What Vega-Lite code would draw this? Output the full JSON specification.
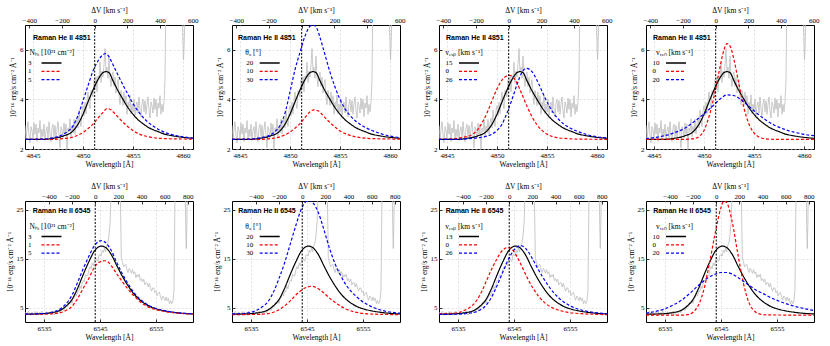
{
"$schema": "https://vega.github.io/schema/vega-lite/v6.json",
"padding": 5,
"columns": 4,
"spacing": {"row": 52, "column": 39},
"bounds": "flush",
"resolve": {"scale": {"color": "independent", "strokeDash": "independent"}},
"datasets": {
"o1": [
{"x":4844.2,"y":2.95},{"x":4844.3,"y":2.40},{"x":4844.4,"y":2.80},{"x":4844.5,"y":3.10},{"x":4844.6,"y":2.55},{"x":4844.7,"y":2.25},{"x":4844.8,"y":2.90},{"x":4844.9,"y":2.75},{"x":4845.0,"y":2.45},{"x":4845.1,"y":3.05},
{"x":4845.2,"y":2.60},{"x":4845.3,"y":3.00},{"x":4845.4,"y":2.30},{"x":4845.5,"y":2.85},{"x":4845.6,"y":2.65},{"x":4845.7,"y":3.15},{"x":4845.8,"y":2.40},{"x":4845.9,"y":2.80},{"x":4846.0,"y":2.50},{"x":4846.1,"y":3.00},
{"x":4846.2,"y":2.35},{"x":4846.3,"y":2.75},{"x":4846.4,"y":2.90},{"x":4846.5,"y":2.45},{"x":4846.6,"y":3.10},{"x":4846.7,"y":2.60},{"x":4846.8,"y":2.30},{"x":4846.9,"y":2.85},{"x":4847.0,"y":3.00},{"x":4847.1,"y":2.50},
{"x":4847.2,"y":2.95},{"x":4847.3,"y":2.40},{"x":4847.4,"y":2.80},{"x":4847.5,"y":3.10},{"x":4847.6,"y":2.55},{"x":4847.7,"y":2.05},{"x":4847.8,"y":2.90},{"x":4847.9,"y":2.75},{"x":4848.0,"y":2.45},{"x":4848.1,"y":3.05},
{"x":4848.2,"y":2.60},{"x":4848.3,"y":3.00},{"x":4848.4,"y":1.95},{"x":4848.5,"y":2.85},{"x":4848.6,"y":2.70},{"x":4848.7,"y":3.22},{"x":4848.8,"y":2.50},{"x":4848.9,"y":2.92},{"x":4849.0,"y":2.65},{"x":4849.1,"y":3.20},
{"x":4849.2,"y":2.60},{"x":4849.3,"y":3.05},{"x":4849.4,"y":3.25},{"x":4849.5,"y":2.85},{"x":4849.6,"y":3.57},{"x":4849.7,"y":3.14},{"x":4849.8,"y":2.91},{"x":4849.9,"y":3.53},{"x":4850.0,"y":3.75},{"x":4850.1,"y":3.34},
{"x":4850.2,"y":3.88},{"x":4850.3,"y":3.42},{"x":4850.4,"y":3.91},{"x":4850.5,"y":4.30},{"x":4850.6,"y":3.84},{"x":4850.7,"y":3.63},{"x":4850.8,"y":4.37},{"x":4850.9,"y":4.31},{"x":4851.0,"y":4.10},{"x":4851.1,"y":4.79},
{"x":4851.2,"y":4.43},{"x":4851.3,"y":4.92},{"x":4851.4,"y":4.31},{"x":4851.5,"y":4.95},{"x":4851.6,"y":4.81},{"x":4851.7,"y":5.50},{"x":4851.8,"y":4.68},{"x":4851.9,"y":5.14},{"x":4852.0,"y":4.90},{"x":4852.1,"y":5.40},
{"x":4852.2,"y":6.05},{"x":4852.3,"y":5.15},{"x":4852.4,"y":5.30},{"x":4852.5,"y":4.85},{"x":4852.6,"y":5.75},{"x":4852.7,"y":4.88},{"x":4852.8,"y":4.52},{"x":4852.9,"y":5.01},{"x":4853.0,"y":5.10},{"x":4853.1,"y":4.52},
{"x":4853.2,"y":4.89},{"x":4853.3,"y":4.26},{"x":4853.4,"y":4.58},{"x":4853.5,"y":4.80},{"x":4853.6,"y":4.17},{"x":4853.7,"y":3.79},{"x":4853.8,"y":4.36},{"x":4853.9,"y":4.13},{"x":4854.0,"y":3.75},{"x":4854.1,"y":4.30},
{"x":4854.2,"y":3.80},{"x":4854.3,"y":4.15},{"x":4854.4,"y":3.40},{"x":4854.5,"y":3.90},{"x":4854.6,"y":3.69},{"x":4854.7,"y":4.18},{"x":4854.8,"y":3.42},{"x":4854.9,"y":3.81},{"x":4855.0,"y":3.50},{"x":4855.1,"y":4.00},
{"x":4855.2,"y":3.35},{"x":4855.3,"y":3.75},{"x":4855.4,"y":3.90},{"x":4855.5,"y":3.45},{"x":4855.6,"y":4.10},{"x":4855.7,"y":3.60},{"x":4855.8,"y":3.30},{"x":4855.9,"y":3.85},{"x":4856.0,"y":4.00},{"x":4856.1,"y":3.50},
{"x":4856.2,"y":3.95},{"x":4856.3,"y":3.40},{"x":4856.4,"y":3.80},{"x":4856.5,"y":4.10},{"x":4856.6,"y":3.55},{"x":4856.7,"y":3.25},{"x":4856.8,"y":3.90},{"x":4856.9,"y":3.75},{"x":4857.0,"y":3.45},{"x":4857.1,"y":4.05},
{"x":4857.2,"y":3.60},{"x":4857.3,"y":4.00},{"x":4857.4,"y":3.30},{"x":4857.5,"y":3.85},{"x":4857.6,"y":3.65},{"x":4857.7,"y":4.15},{"x":4857.8,"y":3.40},{"x":4857.9,"y":3.80},{"x":4858.0,"y":3.50},{"x":4858.1,"y":3.90},
{"x":4858.2,"y":4.80},{"x":4858.3,"y":8.5},{"x":4858.5,"y":9.5},{"x":4859.0,"y":9.5},{"x":4859.5,"y":9.5},{"x":4859.8,"y":9.0},{"x":4859.9,"y":7.5},{"x":4860.0,"y":6.2},{"x":4860.05,"y":5.6},{"x":4860.1,"y":6.0},
{"x":4860.2,"y":7.5},{"x":4860.3,"y":9.0},{"x":4861.0,"y":9.0}
],
"o2": [
{"x":6531.6,"y":4.15},{"x":6531.8,"y":3.60},{"x":6532.0,"y":4.00},{"x":6532.2,"y":4.30},{"x":6532.4,"y":3.75},{"x":6532.6,"y":3.45},{"x":6532.8,"y":4.10},{"x":6533.0,"y":3.95},{"x":6533.2,"y":3.65},{"x":6533.4,"y":4.25},
{"x":6533.6,"y":3.80},{"x":6533.8,"y":4.20},{"x":6534.0,"y":3.50},{"x":6534.2,"y":4.05},{"x":6534.4,"y":3.85},{"x":6534.6,"y":4.35},{"x":6534.8,"y":3.60},{"x":6535.0,"y":4.00},{"x":6535.2,"y":3.70},{"x":6535.4,"y":4.20},
{"x":6535.6,"y":3.55},{"x":6535.8,"y":3.95},{"x":6536.0,"y":4.10},{"x":6536.2,"y":3.65},{"x":6536.4,"y":4.30},{"x":6536.6,"y":3.80},{"x":6536.8,"y":3.50},{"x":6537.0,"y":4.05},{"x":6537.2,"y":4.30},{"x":6537.4,"y":3.85},
{"x":6537.6,"y":4.40},{"x":6537.8,"y":3.95},{"x":6538.0,"y":4.50},{"x":6538.2,"y":4.95},{"x":6538.4,"y":4.55},{"x":6538.6,"y":4.45},{"x":6538.8,"y":5.30},{"x":6539.0,"y":5.35},{"x":6539.2,"y":5.18},{"x":6539.4,"y":6.16},
{"x":6539.6,"y":5.77},{"x":6539.8,"y":6.54},{"x":6540.0,"y":5.88},{"x":6540.2,"y":6.95},{"x":6540.4,"y":7.03},{"x":6540.6,"y":8.05},{"x":6540.8,"y":7.40},{"x":6541.0,"y":8.34},{"x":6541.2,"y":8.32},{"x":6541.4,"y":9.42},
{"x":6541.6,"y":8.90},{"x":6541.8,"y":9.92},{"x":6542.0,"y":10.60},{"x":6542.2,"y":10.37},{"x":6542.4,"y":11.80},{"x":6542.6,"y":11.50},{"x":6542.8,"y":11.50},{"x":6543.0,"y":12.75},{"x":6543.2,"y":13.40},{"x":6543.4,"y":12.95},
{"x":6543.6,"y":14.15},{"x":6543.8,"y":13.55},{"x":6544.0,"y":14.55},{"x":6544.2,"y":15.30},{"x":6544.4,"y":14.70},{"x":6544.6,"y":14.50},{"x":6544.8,"y":15.75},{"x":6545.0,"y":15.80},{"x":6545.2,"y":15.55},{"x":6545.4,"y":16.75},
{"x":6545.6,"y":16.30},{"x":6545.8,"y":17.20},{"x":6546.0,"y":16.40},{"x":6546.2,"y":17.75},{"x":6546.4,"y":18.20},{"x":6546.6,"y":19.80},{"x":6546.8,"y":22.5},{"x":6547.0,"y":30},{"x":6548.6,"y":30},{"x":6548.8,"y":15.0},
{"x":6549.0,"y":14.40},{"x":6549.2,"y":13.35},{"x":6549.4,"y":13.70},{"x":6549.6,"y":13.90},{"x":6549.8,"y":12.85},{"x":6550.0,"y":12.20},{"x":6550.2,"y":13.05},{"x":6550.4,"y":12.70},{"x":6550.6,"y":12.05},{"x":6550.8,"y":12.80},
{"x":6551.0,"y":11.95},{"x":6551.2,"y":12.35},{"x":6551.4,"y":11.15},{"x":6551.6,"y":11.75},{"x":6551.8,"y":11.30},{"x":6552.0,"y":11.85},{"x":6552.2,"y":10.55},{"x":6552.4,"y":10.95},{"x":6552.6,"y":10.30},{"x":6552.8,"y":10.85},
{"x":6553.0,"y":9.70},{"x":6553.2,"y":10.10},{"x":6553.4,"y":10.10},{"x":6553.6,"y":9.25},{"x":6553.8,"y":10.00},{"x":6554.0,"y":9.05},{"x":6554.2,"y":8.40},{"x":6554.4,"y":9.05},{"x":6554.6,"y":9.05},{"x":6554.8,"y":8.10},
{"x":6555.0,"y":8.40},{"x":6555.2,"y":7.45},{"x":6555.4,"y":7.95},{"x":6555.6,"y":8.20},{"x":6555.8,"y":7.25},{"x":6556.0,"y":6.55},{"x":6556.2,"y":7.40},{"x":6556.4,"y":7.10},{"x":6556.6,"y":6.45},{"x":6556.8,"y":7.20},
{"x":6557.0,"y":6.45},{"x":6557.2,"y":6.95},{"x":6557.4,"y":5.80},{"x":6557.6,"y":6.45},{"x":6557.8,"y":5.85},{"x":6558.0,"y":6.20},{"x":6558.2,"y":8.5},{"x":6558.4,"y":30},{"x":6560.2,"y":30},{"x":6560.3,"y":22},
{"x":6560.4,"y":17.1},{"x":6560.5,"y":22},{"x":6560.6,"y":30},{"x":6561.6,"y":30}
],
"m1": [
{"p":0,"k":"b","x":4844.2,"y":2.39},{"p":0,"k":"b","x":4846,"y":2.39},{"p":0,"k":"b","x":4847,"y":2.43},{"p":0,"k":"b","x":4848,"y":2.52},{"p":0,"k":"b","x":4849,"y":2.73},{"p":0,"k":"b","x":4849.5,"y":3.0},{"p":0,"k":"b","x":4850,"y":3.4},{"p":0,"k":"b","x":4850.5,"y":3.9},{"p":0,"k":"b","x":4851,"y":4.38},{"p":0,"k":"b","x":4851.5,"y":4.8},{"p":0,"k":"b","x":4852,"y":5.08},{"p":0,"k":"b","x":4852.3,"y":5.12},{"p":0,"k":"b","x":4852.6,"y":5.08},{"p":0,"k":"b","x":4853,"y":4.75},{"p":0,"k":"b","x":4853.5,"y":4.35},{"p":0,"k":"b","x":4854,"y":4.0},{"p":0,"k":"b","x":4854.5,"y":3.67},{"p":0,"k":"b","x":4855,"y":3.4},{"p":0,"k":"b","x":4855.5,"y":3.18},{"p":0,"k":"b","x":4856,"y":3.02},{"p":0,"k":"b","x":4856.5,"y":2.88},{"p":0,"k":"b","x":4857,"y":2.78},{"p":0,"k":"b","x":4857.5,"y":2.7},{"p":0,"k":"b","x":4858,"y":2.62},{"p":0,"k":"b","x":4859,"y":2.53},{"p":0,"k":"b","x":4860,"y":2.47},{"p":0,"k":"b","x":4861,"y":2.43},
{"p":1,"k":"r","x":4844.2,"y":2.39},{"p":1,"k":"r","x":4847,"y":2.39},{"p":1,"k":"r","x":4848,"y":2.42},{"p":1,"k":"r","x":4849,"y":2.48},{"p":1,"k":"r","x":4849.5,"y":2.56},{"p":1,"k":"r","x":4850,"y":2.66},{"p":1,"k":"r","x":4850.5,"y":2.82},{"p":1,"k":"r","x":4851,"y":3.0},{"p":1,"k":"r","x":4851.5,"y":3.25},{"p":1,"k":"r","x":4852,"y":3.48},{"p":1,"k":"r","x":4852.4,"y":3.63},{"p":1,"k":"r","x":4852.8,"y":3.58},{"p":1,"k":"r","x":4853.1,"y":3.46},{"p":1,"k":"r","x":4853.7,"y":3.2},{"p":1,"k":"r","x":4854.4,"y":2.93},{"p":1,"k":"r","x":4855,"y":2.74},{"p":1,"k":"r","x":4855.7,"y":2.59},{"p":1,"k":"r","x":4856.7,"y":2.48},{"p":1,"k":"r","x":4857.7,"y":2.43},{"p":1,"k":"r","x":4859,"y":2.41},{"p":1,"k":"r","x":4861,"y":2.4},
{"p":1,"k":"u","x":4844.2,"y":2.39},{"p":1,"k":"u","x":4846,"y":2.4},{"p":1,"k":"u","x":4847,"y":2.45},{"p":1,"k":"u","x":4848,"y":2.59},{"p":1,"k":"u","x":4848.5,"y":2.72},{"p":1,"k":"u","x":4849,"y":2.93},{"p":1,"k":"u","x":4849.5,"y":3.35},{"p":1,"k":"u","x":4850,"y":3.94},{"p":1,"k":"u","x":4850.5,"y":4.55},{"p":1,"k":"u","x":4851,"y":5.15},{"p":1,"k":"u","x":4851.5,"y":5.55},{"p":1,"k":"u","x":4852,"y":5.8},{"p":1,"k":"u","x":4852.3,"y":5.85},{"p":1,"k":"u","x":4852.6,"y":5.72},{"p":1,"k":"u","x":4853,"y":5.4},{"p":1,"k":"u","x":4853.5,"y":4.98},{"p":1,"k":"u","x":4854,"y":4.58},{"p":1,"k":"u","x":4854.5,"y":4.2},{"p":1,"k":"u","x":4855,"y":3.83},{"p":1,"k":"u","x":4855.5,"y":3.53},{"p":1,"k":"u","x":4856,"y":3.28},{"p":1,"k":"u","x":4856.5,"y":3.08},{"p":1,"k":"u","x":4857,"y":2.93},{"p":1,"k":"u","x":4857.5,"y":2.8},{"p":1,"k":"u","x":4858,"y":2.7},{"p":1,"k":"u","x":4859,"y":2.57},{"p":1,"k":"u","x":4860,"y":2.49},{"p":1,"k":"u","x":4861,"y":2.44},
{"p":2,"k":"r","x":4844.2,"y":2.39},{"p":2,"k":"r","x":4847,"y":2.39},{"p":2,"k":"r","x":4848,"y":2.42},{"p":2,"k":"r","x":4849,"y":2.49},{"p":2,"k":"r","x":4849.5,"y":2.57},{"p":2,"k":"r","x":4850,"y":2.68},{"p":2,"k":"r","x":4850.5,"y":2.84},{"p":2,"k":"r","x":4851,"y":3.02},{"p":2,"k":"r","x":4851.5,"y":3.27},{"p":2,"k":"r","x":4852,"y":3.5},{"p":2,"k":"r","x":4852.4,"y":3.58},{"p":2,"k":"r","x":4852.8,"y":3.54},{"p":2,"k":"r","x":4853.1,"y":3.44},{"p":2,"k":"r","x":4853.7,"y":3.18},{"p":2,"k":"r","x":4854.4,"y":2.92},{"p":2,"k":"r","x":4855,"y":2.73},{"p":2,"k":"r","x":4855.7,"y":2.59},{"p":2,"k":"r","x":4856.7,"y":2.48},{"p":2,"k":"r","x":4857.7,"y":2.43},{"p":2,"k":"r","x":4859,"y":2.41},{"p":2,"k":"r","x":4861,"y":2.4},
{"p":2,"k":"u","x":4844.2,"y":2.39},{"p":2,"k":"u","x":4846,"y":2.4},{"p":2,"k":"u","x":4847,"y":2.45},{"p":2,"k":"u","x":4848,"y":2.56},{"p":2,"k":"u","x":4848.5,"y":2.7},{"p":2,"k":"u","x":4849,"y":2.95},{"p":2,"k":"u","x":4849.5,"y":3.45},{"p":2,"k":"u","x":4850,"y":4.3},{"p":2,"k":"u","x":4850.5,"y":5.2},{"p":2,"k":"u","x":4851,"y":5.9},{"p":2,"k":"u","x":4851.5,"y":6.55},{"p":2,"k":"u","x":4852,"y":6.95},{"p":2,"k":"u","x":4852.3,"y":7.0},{"p":2,"k":"u","x":4852.7,"y":6.85},{"p":2,"k":"u","x":4853,"y":6.5},{"p":2,"k":"u","x":4853.5,"y":5.8},{"p":2,"k":"u","x":4854,"y":5.1},{"p":2,"k":"u","x":4854.5,"y":4.5},{"p":2,"k":"u","x":4855,"y":4.0},{"p":2,"k":"u","x":4855.5,"y":3.62},{"p":2,"k":"u","x":4856,"y":3.35},{"p":2,"k":"u","x":4856.5,"y":3.15},{"p":2,"k":"u","x":4857,"y":3.0},{"p":2,"k":"u","x":4857.5,"y":2.88},{"p":2,"k":"u","x":4858,"y":2.78},{"p":2,"k":"u","x":4859,"y":2.63},{"p":2,"k":"u","x":4860,"y":2.52},{"p":2,"k":"u","x":4861,"y":2.46},
{"p":3,"k":"r","x":4844.2,"y":2.39},{"p":3,"k":"r","x":4845.5,"y":2.41},{"p":3,"k":"r","x":4846.5,"y":2.46},{"p":3,"k":"r","x":4847.5,"y":2.58},{"p":3,"k":"r","x":4848,"y":2.75},{"p":3,"k":"r","x":4848.5,"y":3.05},{"p":3,"k":"r","x":4849,"y":3.45},{"p":3,"k":"r","x":4849.5,"y":3.95},{"p":3,"k":"r","x":4850,"y":4.42},{"p":3,"k":"r","x":4850.5,"y":4.78},{"p":3,"k":"r","x":4851,"y":4.95},{"p":3,"k":"r","x":4851.3,"y":4.97},{"p":3,"k":"r","x":4851.6,"y":4.9},{"p":3,"k":"r","x":4852,"y":4.65},{"p":3,"k":"r","x":4852.5,"y":4.2},{"p":3,"k":"r","x":4853,"y":3.72},{"p":3,"k":"r","x":4853.5,"y":3.3},{"p":3,"k":"r","x":4854,"y":2.98},{"p":3,"k":"r","x":4854.5,"y":2.75},{"p":3,"k":"r","x":4855,"y":2.6},{"p":3,"k":"r","x":4855.5,"y":2.51},{"p":3,"k":"r","x":4856,"y":2.46},{"p":3,"k":"r","x":4857,"y":2.42},{"p":3,"k":"r","x":4858,"y":2.4},{"p":3,"k":"r","x":4861,"y":2.39},
{"p":3,"k":"u","x":4844.2,"y":2.39},{"p":3,"k":"u","x":4846,"y":2.39},{"p":3,"k":"u","x":4847,"y":2.41},{"p":3,"k":"u","x":4848,"y":2.45},{"p":3,"k":"u","x":4849,"y":2.52},{"p":3,"k":"u","x":4849.5,"y":2.6},{"p":3,"k":"u","x":4850,"y":2.75},{"p":3,"k":"u","x":4850.5,"y":3.0},{"p":3,"k":"u","x":4851,"y":3.45},{"p":3,"k":"u","x":4851.5,"y":4.0},{"p":3,"k":"u","x":4852,"y":4.6},{"p":3,"k":"u","x":4852.5,"y":5.1},{"p":3,"k":"u","x":4852.9,"y":5.25},{"p":3,"k":"u","x":4853.3,"y":5.2},{"p":3,"k":"u","x":4853.7,"y":5.0},{"p":3,"k":"u","x":4854.2,"y":4.6},{"p":3,"k":"u","x":4854.7,"y":4.15},{"p":3,"k":"u","x":4855.2,"y":3.75},{"p":3,"k":"u","x":4855.7,"y":3.42},{"p":3,"k":"u","x":4856.2,"y":3.18},{"p":3,"k":"u","x":4856.7,"y":3.0},{"p":3,"k":"u","x":4857.2,"y":2.87},{"p":3,"k":"u","x":4858,"y":2.72},{"p":3,"k":"u","x":4859,"y":2.58},{"p":3,"k":"u","x":4860,"y":2.49},{"p":3,"k":"u","x":4861,"y":2.45},
{"p":4,"k":"r","x":4844.2,"y":2.39},{"p":4,"k":"r","x":4848,"y":2.39},{"p":4,"k":"r","x":4849,"y":2.42},{"p":4,"k":"r","x":4849.5,"y":2.5},{"p":4,"k":"r","x":4850,"y":2.75},{"p":4,"k":"r","x":4850.5,"y":3.3},{"p":4,"k":"r","x":4851,"y":4.1},{"p":4,"k":"r","x":4851.5,"y":5.1},{"p":4,"k":"r","x":4852,"y":6.0},{"p":4,"k":"r","x":4852.3,"y":6.25},{"p":4,"k":"r","x":4852.6,"y":6.15},{"p":4,"k":"r","x":4853,"y":5.6},{"p":4,"k":"r","x":4853.5,"y":4.6},{"p":4,"k":"r","x":4854,"y":3.65},{"p":4,"k":"r","x":4854.5,"y":3.0},{"p":4,"k":"r","x":4855,"y":2.65},{"p":4,"k":"r","x":4855.5,"y":2.48},{"p":4,"k":"r","x":4856,"y":2.42},{"p":4,"k":"r","x":4857,"y":2.39},{"p":4,"k":"r","x":4861,"y":2.39},
{"p":4,"k":"u","x":4844.2,"y":2.42},{"p":4,"k":"u","x":4845,"y":2.46},{"p":4,"k":"u","x":4846,"y":2.53},{"p":4,"k":"u","x":4847,"y":2.65},{"p":4,"k":"u","x":4848,"y":2.82},{"p":4,"k":"u","x":4849,"y":3.1},{"p":4,"k":"u","x":4850,"y":3.42},{"p":4,"k":"u","x":4851,"y":3.78},{"p":4,"k":"u","x":4851.7,"y":4.05},{"p":4,"k":"u","x":4852.3,"y":4.18},{"p":4,"k":"u","x":4852.8,"y":4.17},{"p":4,"k":"u","x":4853.5,"y":4.05},{"p":4,"k":"u","x":4854.2,"y":3.82},{"p":4,"k":"u","x":4855,"y":3.54},{"p":4,"k":"u","x":4856,"y":3.22},{"p":4,"k":"u","x":4857,"y":2.97},{"p":4,"k":"u","x":4858,"y":2.8},{"p":4,"k":"u","x":4859,"y":2.68},{"p":4,"k":"u","x":4860,"y":2.59},{"p":4,"k":"u","x":4861,"y":2.54}
],
"m2": [
{"p":0,"k":"b","x":6531.6,"y":3.7},{"p":0,"k":"b","x":6534,"y":3.75},{"p":0,"k":"b","x":6536,"y":3.95},{"p":0,"k":"b","x":6537,"y":4.15},{"p":0,"k":"b","x":6538,"y":4.55},{"p":0,"k":"b","x":6539,"y":5.4},{"p":0,"k":"b","x":6540,"y":6.7},{"p":0,"k":"b","x":6541,"y":9.0},{"p":0,"k":"b","x":6542,"y":11.8},{"p":0,"k":"b","x":6543,"y":14.4},{"p":0,"k":"b","x":6544,"y":16.6},{"p":0,"k":"b","x":6544.7,"y":17.4},{"p":0,"k":"b","x":6545.3,"y":17.6},{"p":0,"k":"b","x":6546,"y":17.3},{"p":0,"k":"b","x":6547,"y":15.9},{"p":0,"k":"b","x":6548,"y":13.6},{"p":0,"k":"b","x":6549,"y":11.4},{"p":0,"k":"b","x":6550,"y":9.5},{"p":0,"k":"b","x":6551,"y":7.9},{"p":0,"k":"b","x":6552,"y":6.7},{"p":0,"k":"b","x":6553,"y":5.85},{"p":0,"k":"b","x":6554,"y":5.2},{"p":0,"k":"b","x":6555,"y":4.8},{"p":0,"k":"b","x":6556,"y":4.5},{"p":0,"k":"b","x":6558,"y":4.1},{"p":0,"k":"b","x":6560,"y":3.85},{"p":0,"k":"b","x":6561.6,"y":3.75},
{"p":1,"k":"r","x":6531.6,"y":3.65},{"p":1,"k":"r","x":6535,"y":3.7},{"p":1,"k":"r","x":6537,"y":3.85},{"p":1,"k":"r","x":6538,"y":4.0},{"p":1,"k":"r","x":6539,"y":4.5},{"p":1,"k":"r","x":6540,"y":5.3},{"p":1,"k":"r","x":6541,"y":6.9},{"p":1,"k":"r","x":6542,"y":9.0},{"p":1,"k":"r","x":6543,"y":11.0},{"p":1,"k":"r","x":6544,"y":13.3},{"p":1,"k":"r","x":6545,"y":14.4},{"p":1,"k":"r","x":6545.8,"y":14.6},{"p":1,"k":"r","x":6546.5,"y":14.3},{"p":1,"k":"r","x":6547,"y":13.6},{"p":1,"k":"r","x":6548,"y":11.9},{"p":1,"k":"r","x":6549,"y":10.3},{"p":1,"k":"r","x":6550,"y":8.8},{"p":1,"k":"r","x":6551,"y":7.5},{"p":1,"k":"r","x":6552,"y":6.4},{"p":1,"k":"r","x":6553,"y":5.55},{"p":1,"k":"r","x":6554,"y":4.95},{"p":1,"k":"r","x":6555,"y":4.6},{"p":1,"k":"r","x":6556,"y":4.35},{"p":1,"k":"r","x":6558,"y":4.0},{"p":1,"k":"r","x":6560,"y":3.8},{"p":1,"k":"r","x":6561.6,"y":3.7},
{"p":1,"k":"u","x":6531.6,"y":3.7},{"p":1,"k":"u","x":6534,"y":3.78},{"p":1,"k":"u","x":6536,"y":4.0},{"p":1,"k":"u","x":6537,"y":4.3},{"p":1,"k":"u","x":6538,"y":4.85},{"p":1,"k":"u","x":6539,"y":5.9},{"p":1,"k":"u","x":6540,"y":7.6},{"p":1,"k":"u","x":6541,"y":10.2},{"p":1,"k":"u","x":6542,"y":13.0},{"p":1,"k":"u","x":6543,"y":15.5},{"p":1,"k":"u","x":6544,"y":17.7},{"p":1,"k":"u","x":6544.7,"y":18.5},{"p":1,"k":"u","x":6545.2,"y":18.7},{"p":1,"k":"u","x":6546,"y":18.3},{"p":1,"k":"u","x":6547,"y":16.7},{"p":1,"k":"u","x":6548,"y":14.2},{"p":1,"k":"u","x":6549,"y":11.9},{"p":1,"k":"u","x":6550,"y":9.9},{"p":1,"k":"u","x":6551,"y":8.2},{"p":1,"k":"u","x":6552,"y":6.9},{"p":1,"k":"u","x":6553,"y":6.0},{"p":1,"k":"u","x":6554,"y":5.3},{"p":1,"k":"u","x":6555,"y":4.85},{"p":1,"k":"u","x":6556,"y":4.55},{"p":1,"k":"u","x":6558,"y":4.1},{"p":1,"k":"u","x":6560,"y":3.87},{"p":1,"k":"u","x":6561.6,"y":3.77},
{"p":2,"k":"r","x":6531.6,"y":3.6},{"p":2,"k":"r","x":6536,"y":3.65},{"p":2,"k":"r","x":6538,"y":3.8},{"p":2,"k":"r","x":6539,"y":4.1},{"p":2,"k":"r","x":6540,"y":4.6},{"p":2,"k":"r","x":6541,"y":5.4},{"p":2,"k":"r","x":6542,"y":6.4},{"p":2,"k":"r","x":6543,"y":7.6},{"p":2,"k":"r","x":6544,"y":8.6},{"p":2,"k":"r","x":6545,"y":9.2},{"p":2,"k":"r","x":6545.8,"y":9.4},{"p":2,"k":"r","x":6546.5,"y":9.2},{"p":2,"k":"r","x":6547.5,"y":8.5},{"p":2,"k":"r","x":6548.5,"y":7.5},{"p":2,"k":"r","x":6549.5,"y":6.5},{"p":2,"k":"r","x":6550.5,"y":5.7},{"p":2,"k":"r","x":6551.5,"y":5.0},{"p":2,"k":"r","x":6552.5,"y":4.5},{"p":2,"k":"r","x":6553.5,"y":4.15},{"p":2,"k":"r","x":6555,"y":3.85},{"p":2,"k":"r","x":6557,"y":3.7},{"p":2,"k":"r","x":6561.6,"y":3.6},
{"p":2,"k":"u","x":6531.6,"y":3.75},{"p":2,"k":"u","x":6534,"y":3.9},{"p":2,"k":"u","x":6535,"y":4.1},{"p":2,"k":"u","x":6536,"y":4.5},{"p":2,"k":"u","x":6537,"y":5.2},{"p":2,"k":"u","x":6538,"y":6.2},{"p":2,"k":"u","x":6539,"y":8.2},{"p":2,"k":"u","x":6540,"y":11.0},{"p":2,"k":"u","x":6541,"y":14.2},{"p":2,"k":"u","x":6542,"y":18.0},{"p":2,"k":"u","x":6543,"y":21.8},{"p":2,"k":"u","x":6544,"y":25.2},{"p":2,"k":"u","x":6545,"y":26.8},{"p":2,"k":"u","x":6545.5,"y":26.9},{"p":2,"k":"u","x":6546,"y":26.5},{"p":2,"k":"u","x":6547,"y":24.5},{"p":2,"k":"u","x":6548,"y":21.0},{"p":2,"k":"u","x":6549,"y":17.2},{"p":2,"k":"u","x":6550,"y":14.0},{"p":2,"k":"u","x":6551,"y":11.6},{"p":2,"k":"u","x":6552,"y":9.6},{"p":2,"k":"u","x":6553,"y":8.2},{"p":2,"k":"u","x":6554,"y":7.1},{"p":2,"k":"u","x":6555,"y":6.2},{"p":2,"k":"u","x":6556,"y":5.5},{"p":2,"k":"u","x":6557,"y":5.0},{"p":2,"k":"u","x":6558,"y":4.6},{"p":2,"k":"u","x":6559,"y":4.3},{"p":2,"k":"u","x":6560,"y":4.1},{"p":2,"k":"u","x":6561.6,"y":3.9},
{"p":3,"k":"r","x":6531.6,"y":3.75},{"p":3,"k":"r","x":6534,"y":3.85},{"p":3,"k":"r","x":6535,"y":4.0},{"p":3,"k":"r","x":6536,"y":4.4},{"p":3,"k":"r","x":6537,"y":5.0},{"p":3,"k":"r","x":6538,"y":6.0},{"p":3,"k":"r","x":6539,"y":7.8},{"p":3,"k":"r","x":6540,"y":10.3},{"p":3,"k":"r","x":6541,"y":12.9},{"p":3,"k":"r","x":6542,"y":15.1},{"p":3,"k":"r","x":6543,"y":16.8},{"p":3,"k":"r","x":6543.9,"y":17.3},{"p":3,"k":"r","x":6544.6,"y":17.0},{"p":3,"k":"r","x":6545.5,"y":15.5},{"p":3,"k":"r","x":6546.5,"y":13.2},{"p":3,"k":"r","x":6547.5,"y":10.8},{"p":3,"k":"r","x":6548.5,"y":8.8},{"p":3,"k":"r","x":6549.5,"y":7.2},{"p":3,"k":"r","x":6550.5,"y":6.0},{"p":3,"k":"r","x":6551.5,"y":5.2},{"p":3,"k":"r","x":6552.5,"y":4.7},{"p":3,"k":"r","x":6553.5,"y":4.35},{"p":3,"k":"r","x":6555,"y":4.0},{"p":3,"k":"r","x":6557,"y":3.8},{"p":3,"k":"r","x":6560,"y":3.65},{"p":3,"k":"r","x":6561.6,"y":3.6},
{"p":3,"k":"u","x":6531.6,"y":3.65},{"p":3,"k":"u","x":6535,"y":3.7},{"p":3,"k":"u","x":6537,"y":3.9},{"p":3,"k":"u","x":6538,"y":4.1},{"p":3,"k":"u","x":6539,"y":4.6},{"p":3,"k":"u","x":6540,"y":5.5},{"p":3,"k":"u","x":6541,"y":7.2},{"p":3,"k":"u","x":6542,"y":9.6},{"p":3,"k":"u","x":6543,"y":12.3},{"p":3,"k":"u","x":6544,"y":14.9},{"p":3,"k":"u","x":6545,"y":16.8},{"p":3,"k":"u","x":6546.2,"y":17.7},{"p":3,"k":"u","x":6547,"y":17.2},{"p":3,"k":"u","x":6548,"y":15.6},{"p":3,"k":"u","x":6549,"y":13.5},{"p":3,"k":"u","x":6550,"y":11.5},{"p":3,"k":"u","x":6551,"y":9.7},{"p":3,"k":"u","x":6552,"y":8.2},{"p":3,"k":"u","x":6553,"y":7.0},{"p":3,"k":"u","x":6554,"y":6.1},{"p":3,"k":"u","x":6555,"y":5.4},{"p":3,"k":"u","x":6556,"y":4.9},{"p":3,"k":"u","x":6557,"y":4.55},{"p":3,"k":"u","x":6558,"y":4.3},{"p":3,"k":"u","x":6560,"y":3.95},{"p":3,"k":"u","x":6561.6,"y":3.8},
{"p":4,"k":"r","x":6531.6,"y":3.5},{"p":4,"k":"r","x":6538,"y":3.5},{"p":4,"k":"r","x":6539,"y":3.6},{"p":4,"k":"r","x":6540,"y":4.1},{"p":4,"k":"r","x":6541,"y":5.6},{"p":4,"k":"r","x":6542,"y":9.0},{"p":4,"k":"r","x":6543,"y":14.5},{"p":4,"k":"r","x":6544,"y":20.5},{"p":4,"k":"r","x":6545,"y":25.5},{"p":4,"k":"r","x":6545.5,"y":26.8},{"p":4,"k":"r","x":6546,"y":26.5},{"p":4,"k":"r","x":6547,"y":22.5},{"p":4,"k":"r","x":6548,"y":16.0},{"p":4,"k":"r","x":6549,"y":10.0},{"p":4,"k":"r","x":6550,"y":6.0},{"p":4,"k":"r","x":6551,"y":4.3},{"p":4,"k":"r","x":6552,"y":3.7},{"p":4,"k":"r","x":6553,"y":3.55},{"p":4,"k":"r","x":6561.6,"y":3.5},
{"p":4,"k":"u","x":6531.6,"y":3.9},{"p":4,"k":"u","x":6533,"y":4.2},{"p":4,"k":"u","x":6535,"y":4.8},{"p":4,"k":"u","x":6536.5,"y":5.6},{"p":4,"k":"u","x":6538,"y":6.6},{"p":4,"k":"u","x":6539.5,"y":8.0},{"p":4,"k":"u","x":6541,"y":9.6},{"p":4,"k":"u","x":6542.5,"y":11.0},{"p":4,"k":"u","x":6544,"y":11.9},{"p":4,"k":"u","x":6545,"y":12.2},{"p":4,"k":"u","x":6546,"y":12.2},{"p":4,"k":"u","x":6547,"y":11.9},{"p":4,"k":"u","x":6548,"y":11.2},{"p":4,"k":"u","x":6549,"y":10.4},{"p":4,"k":"u","x":6550,"y":9.6},{"p":4,"k":"u","x":6551,"y":8.8},{"p":4,"k":"u","x":6552.5,"y":7.9},{"p":4,"k":"u","x":6554,"y":7.0},{"p":4,"k":"u","x":6555.5,"y":6.3},{"p":4,"k":"u","x":6557,"y":5.7},{"p":4,"k":"u","x":6558.5,"y":5.2},{"p":4,"k":"u","x":6560,"y":4.8},{"p":4,"k":"u","x":6561.6,"y":4.45}
]
},
"concat": [
{"width":168,"height":124,"layer":[{"layer":[
 {"data":{"name":"o1"},"mark":{"type":"line","color":"#bdbdbd","strokeWidth":0.8,"clip":true},"encoding":{"x":{"field":"x","type":"quantitative","scale":{"domain":[4844.2,4861],"nice":false,"zero":false},"axis":{"title":"Wavelength [Å]","values":[4845,4850,4855,4860],"format":"d","grid":true}},"y":{"field":"y","type":"quantitative","scale":{"domain":[2,7],"nice":false,"zero":false},"axis":{"title":"10⁻¹⁶ erg/s cm⁻² Å⁻¹","values":[2,3,4,5,6,7],"grid":true}}}},
 {"data":{"name":"m1"},"transform":[{"filter":"datum.p==0||datum.p==1"}],"mark":{"type":"line","strokeWidth":1.2,"clip":true,"interpolate":"monotone"},"encoding":{"x":{"field":"x","type":"quantitative"},"y":{"field":"y","type":"quantitative"},
  "color":{"field":"k","type":"nominal","scale":{"domain":["b","r","u"],"range":["#000000","#ff0000","#0000ff"]},"legend":{"title":"Nₕᵢ [10²¹ cm⁻²]","orient":"none","legendX":4.5,"legendY":24,"symbolType":"M4,0H12","symbolSize":25,"symbolOffset":-1.5,"labelExpr":"datum.value=='b'?'3':datum.value=='r'?'1':'5'"}},
  "strokeDash":{"field":"k","type":"nominal","scale":{"domain":["b","r","u"],"range":[[1,0],[3,2],[3,2]]},"legend":{"title":"Nₕᵢ [10²¹ cm⁻²]","orient":"none","legendX":4.5,"legendY":24,"symbolType":"M4,0H12","symbolSize":25,"symbolOffset":-1.5,"labelExpr":"datum.value=='b'?'3':datum.value=='r'?'1':'5'"}}}},
 {"data":{"values":[{"t":"Raman He II 4851"}]},"mark":{"type":"text","font":"Liberation Sans","fontWeight":"bold","fontSize":7,"align":"left","baseline":"middle"},"encoding":{"text":{"field":"t"},"x":{"datum":4845.0},"y":{"datum":6.49}}}
 ]},
 {"data":{"values":[{"v":0}]},"mark":{"type":"rule","color":"#000000","strokeDash":[2,1.5],"strokeWidth":1},"encoding":{"x":{"field":"v","type":"quantitative","scale":{"domain":[-426,601],"nice":false,"zero":false},"axis":{"orient":"top","title":"ΔV [km s⁻¹]","values":[-400,-200,0,200,400,600],"grid":false}}}}
],"resolve":{"scale":{"x":"independent"}}},

{"width":168,"height":124,"layer":[{"layer":[
 {"data":{"name":"o1"},"mark":{"type":"line","color":"#bdbdbd","strokeWidth":0.8,"clip":true},"encoding":{"x":{"field":"x","type":"quantitative","scale":{"domain":[4844.2,4861],"nice":false,"zero":false},"axis":{"title":"Wavelength [Å]","values":[4845,4850,4855,4860],"format":"d","grid":true}},"y":{"field":"y","type":"quantitative","scale":{"domain":[2,7],"nice":false,"zero":false},"axis":{"title":"10⁻¹⁶ erg/s cm⁻² Å⁻¹","values":[2,3,4,5,6,7],"grid":true}}}},
 {"data":{"name":"m1"},"transform":[{"filter":"datum.p==0||datum.p==2"}],"mark":{"type":"line","strokeWidth":1.2,"clip":true,"interpolate":"monotone"},"encoding":{"x":{"field":"x","type":"quantitative"},"y":{"field":"y","type":"quantitative"},
  "color":{"field":"k","type":"nominal","scale":{"domain":["b","r","u"],"range":["#000000","#ff0000","#0000ff"]},"legend":{"title":"θₒ [°]","orient":"none","legendX":13.3,"legendY":24,"symbolType":"M4,0H12","symbolSize":25,"symbolOffset":0.9,"labelExpr":"datum.value=='b'?'20':datum.value=='r'?'10':'30'"}},
  "strokeDash":{"field":"k","type":"nominal","scale":{"domain":["b","r","u"],"range":[[1,0],[3,2],[3,2]]},"legend":{"title":"θₒ [°]","orient":"none","legendX":13.3,"legendY":24,"symbolType":"M4,0H12","symbolSize":25,"symbolOffset":0.9,"labelExpr":"datum.value=='b'?'20':datum.value=='r'?'10':'30'"}}}},
 {"data":{"values":[{"t":"Raman He II 4851"}]},"mark":{"type":"text","font":"Liberation Sans","fontWeight":"bold","fontSize":7,"align":"left","baseline":"middle"},"encoding":{"text":{"field":"t"},"x":{"datum":4844.8},"y":{"datum":6.49}}}
 ]},
 {"data":{"values":[{"v":0}]},"mark":{"type":"rule","color":"#000000","strokeDash":[2,1.5],"strokeWidth":1},"encoding":{"x":{"field":"v","type":"quantitative","scale":{"domain":[-426,601],"nice":false,"zero":false},"axis":{"orient":"top","title":"ΔV [km s⁻¹]","values":[-400,-200,0,200,400,600],"grid":false}}}}
],"resolve":{"scale":{"x":"independent"}}},

{"width":168,"height":124,"layer":[{"layer":[
 {"data":{"name":"o1"},"mark":{"type":"line","color":"#bdbdbd","strokeWidth":0.8,"clip":true},"encoding":{"x":{"field":"x","type":"quantitative","scale":{"domain":[4844.2,4861],"nice":false,"zero":false},"axis":{"title":"Wavelength [Å]","values":[4845,4850,4855,4860],"format":"d","grid":true}},"y":{"field":"y","type":"quantitative","scale":{"domain":[2,7],"nice":false,"zero":false},"axis":{"title":"10⁻¹⁶ erg/s cm⁻² Å⁻¹","values":[2,3,4,5,6,7],"grid":true}}}},
 {"data":{"name":"m1"},"transform":[{"filter":"datum.p==0||datum.p==3"}],"mark":{"type":"line","strokeWidth":1.2,"clip":true,"interpolate":"monotone"},"encoding":{"x":{"field":"x","type":"quantitative"},"y":{"field":"y","type":"quantitative"},
  "color":{"field":"k","type":"nominal","scale":{"domain":["b","r","u"],"range":["#000000","#ff0000","#0000ff"]},"legend":{"title":"vₑₓₚ [km s⁻¹]","orient":"none","legendX":6.3,"legendY":24,"symbolType":"M4,0H12","symbolSize":25,"symbolOffset":0.2,"labelExpr":"datum.value=='b'?'15':datum.value=='r'?'0':'26'"}},
  "strokeDash":{"field":"k","type":"nominal","scale":{"domain":["b","r","u"],"range":[[1,0],[3,2],[3,2]]},"legend":{"title":"vₑₓₚ [km s⁻¹]","orient":"none","legendX":6.3,"legendY":24,"symbolType":"M4,0H12","symbolSize":25,"symbolOffset":0.2,"labelExpr":"datum.value=='b'?'15':datum.value=='r'?'0':'26'"}}}},
 {"data":{"values":[{"t":"Raman He II 4851"}]},"mark":{"type":"text","font":"Liberation Sans","fontWeight":"bold","fontSize":7,"align":"left","baseline":"middle"},"encoding":{"text":{"field":"t"},"x":{"datum":4844.9},"y":{"datum":6.49}}}
 ]},
 {"data":{"values":[{"v":0}]},"mark":{"type":"rule","color":"#000000","strokeDash":[2,1.5],"strokeWidth":1},"encoding":{"x":{"field":"v","type":"quantitative","scale":{"domain":[-426,601],"nice":false,"zero":false},"axis":{"orient":"top","title":"ΔV [km s⁻¹]","values":[-400,-200,0,200,400,600],"grid":false}}}}
],"resolve":{"scale":{"x":"independent"}}},

{"width":168,"height":124,"layer":[{"layer":[
 {"data":{"name":"o1"},"mark":{"type":"line","color":"#bdbdbd","strokeWidth":0.8,"clip":true},"encoding":{"x":{"field":"x","type":"quantitative","scale":{"domain":[4844.2,4861],"nice":false,"zero":false},"axis":{"title":"Wavelength [Å]","values":[4845,4850,4855,4860],"format":"d","grid":true}},"y":{"field":"y","type":"quantitative","scale":{"domain":[2,7],"nice":false,"zero":false},"axis":{"title":"10⁻¹⁶ erg/s cm⁻² Å⁻¹","values":[2,3,4,5,6,7],"grid":true}}}},
 {"data":{"name":"m1"},"transform":[{"filter":"datum.p==0||datum.p==4"}],"mark":{"type":"line","strokeWidth":1.2,"clip":true,"interpolate":"monotone"},"encoding":{"x":{"field":"x","type":"quantitative"},"y":{"field":"y","type":"quantitative"},
  "color":{"field":"k","type":"nominal","scale":{"domain":["b","r","u"],"range":["#000000","#ff0000","#0000ff"]},"legend":{"title":"vᵣₐₙ [km s⁻¹]","orient":"none","legendX":10,"legendY":24,"symbolType":"M4,0H12","symbolSize":25,"symbolOffset":-3.5,"labelExpr":"datum.value=='b'?'10':datum.value=='r'?'0':'20'"}},
  "strokeDash":{"field":"k","type":"nominal","scale":{"domain":["b","r","u"],"range":[[1,0],[3,2],[3,2]]},"legend":{"title":"vᵣₐₙ [km s⁻¹]","orient":"none","legendX":10,"legendY":24,"symbolType":"M4,0H12","symbolSize":25,"symbolOffset":-3.5,"labelExpr":"datum.value=='b'?'10':datum.value=='r'?'0':'20'"}}}},
 {"data":{"values":[{"t":"Raman He II 4851"}]},"mark":{"type":"text","font":"Liberation Sans","fontWeight":"bold","fontSize":7,"align":"left","baseline":"middle"},"encoding":{"text":{"field":"t"},"x":{"datum":4844.9},"y":{"datum":6.49}}}
 ]},
 {"data":{"values":[{"v":0}]},"mark":{"type":"rule","color":"#000000","strokeDash":[2,1.5],"strokeWidth":1},"encoding":{"x":{"field":"v","type":"quantitative","scale":{"domain":[-426,601],"nice":false,"zero":false},"axis":{"orient":"top","title":"ΔV [km s⁻¹]","values":[-400,-200,0,200,400,600],"grid":false}}}}
],"resolve":{"scale":{"x":"independent"}}},

{"width":168,"height":121,"layer":[{"layer":[
 {"data":{"name":"o2"},"mark":{"type":"line","color":"#bdbdbd","strokeWidth":0.8,"clip":true},"encoding":{"x":{"field":"x","type":"quantitative","scale":{"domain":[6531.6,6561.6],"nice":false,"zero":false},"axis":{"title":"Wavelength [Å]","values":[6535,6540,6545,6550,6555,6560],"format":"d","grid":true}},"y":{"field":"y","type":"quantitative","scale":{"domain":[2.1,26.8],"nice":false,"zero":false},"axis":{"title":"10⁻¹⁶ erg/s cm⁻² Å⁻¹","values":[5,10,15,20,25],"grid":true}}}},
 {"data":{"name":"m2"},"transform":[{"filter":"datum.p==0||datum.p==1"}],"mark":{"type":"line","strokeWidth":1.2,"clip":true,"interpolate":"monotone"},"encoding":{"x":{"field":"x","type":"quantitative"},"y":{"field":"y","type":"quantitative"},
  "color":{"field":"k","type":"nominal","scale":{"domain":["b","r","u"],"range":["#000000","#ff0000","#0000ff"]},"legend":{"title":"Nₕᵢ [10²¹ cm⁻²]","orient":"none","legendX":4.5,"legendY":21.5,"symbolType":"M4,0H12","symbolSize":25,"symbolOffset":-1.5,"labelExpr":"datum.value=='b'?'3':datum.value=='r'?'1':'5'"}},
  "strokeDash":{"field":"k","type":"nominal","scale":{"domain":["b","r","u"],"range":[[1,0],[3,2],[3,2]]},"legend":{"title":"Nₕᵢ [10²¹ cm⁻²]","orient":"none","legendX":4.5,"legendY":21.5,"symbolType":"M4,0H12","symbolSize":25,"symbolOffset":-1.5,"labelExpr":"datum.value=='b'?'3':datum.value=='r'?'1':'5'"}}}},
 {"data":{"values":[{"t":"Raman He II 6545"}]},"mark":{"type":"text","font":"Liberation Sans","fontWeight":"bold","fontSize":7,"align":"left","baseline":"middle"},"encoding":{"text":{"field":"t"},"x":{"datum":6533.0},"y":{"datum":24.8}}}
 ]},
 {"data":{"values":[{"v":0}]},"mark":{"type":"rule","color":"#000000","strokeDash":[2,1.5],"strokeWidth":1},"encoding":{"x":{"field":"v","type":"quantitative","scale":{"domain":[-607,845],"nice":false,"zero":false},"axis":{"orient":"top","title":"ΔV [km s⁻¹]","values":[-400,-200,0,200,400,600,800],"grid":false}}}}
],"resolve":{"scale":{"x":"independent"}}},

{"width":168,"height":121,"layer":[{"layer":[
 {"data":{"name":"o2"},"mark":{"type":"line","color":"#bdbdbd","strokeWidth":0.8,"clip":true},"encoding":{"x":{"field":"x","type":"quantitative","scale":{"domain":[6531.6,6561.6],"nice":false,"zero":false},"axis":{"title":"Wavelength [Å]","values":[6535,6540,6545,6550,6555,6560],"format":"d","grid":true}},"y":{"field":"y","type":"quantitative","scale":{"domain":[2.1,26.8],"nice":false,"zero":false},"axis":{"title":"10⁻¹⁶ erg/s cm⁻² Å⁻¹","values":[5,10,15,20,25],"grid":true}}}},
 {"data":{"name":"m2"},"transform":[{"filter":"datum.p==0||datum.p==2"}],"mark":{"type":"line","strokeWidth":1.2,"clip":true,"interpolate":"monotone"},"encoding":{"x":{"field":"x","type":"quantitative"},"y":{"field":"y","type":"quantitative"},
  "color":{"field":"k","type":"nominal","scale":{"domain":["b","r","u"],"range":["#000000","#ff0000","#0000ff"]},"legend":{"title":"θₒ [°]","orient":"none","legendX":13.3,"legendY":21.5,"symbolType":"M4,0H12","symbolSize":25,"symbolOffset":0.9,"labelExpr":"datum.value=='b'?'20':datum.value=='r'?'10':'30'"}},
  "strokeDash":{"field":"k","type":"nominal","scale":{"domain":["b","r","u"],"range":[[1,0],[3,2],[3,2]]},"legend":{"title":"θₒ [°]","orient":"none","legendX":13.3,"legendY":21.5,"symbolType":"M4,0H12","symbolSize":25,"symbolOffset":0.9,"labelExpr":"datum.value=='b'?'20':datum.value=='r'?'10':'30'"}}}},
 {"data":{"values":[{"t":"Raman He II 6545"}]},"mark":{"type":"text","font":"Liberation Sans","fontWeight":"bold","fontSize":7,"align":"left","baseline":"middle"},"encoding":{"text":{"field":"t"},"x":{"datum":6532.7},"y":{"datum":24.8}}}
 ]},
 {"data":{"values":[{"v":0}]},"mark":{"type":"rule","color":"#000000","strokeDash":[2,1.5],"strokeWidth":1},"encoding":{"x":{"field":"v","type":"quantitative","scale":{"domain":[-607,845],"nice":false,"zero":false},"axis":{"orient":"top","title":"ΔV [km s⁻¹]","values":[-400,-200,0,200,400,600,800],"grid":false}}}}
],"resolve":{"scale":{"x":"independent"}}},

{"width":168,"height":121,"layer":[{"layer":[
 {"data":{"name":"o2"},"mark":{"type":"line","color":"#bdbdbd","strokeWidth":0.8,"clip":true},"encoding":{"x":{"field":"x","type":"quantitative","scale":{"domain":[6531.6,6561.6],"nice":false,"zero":false},"axis":{"title":"Wavelength [Å]","values":[6535,6540,6545,6550,6555,6560],"format":"d","grid":true}},"y":{"field":"y","type":"quantitative","scale":{"domain":[2.1,26.8],"nice":false,"zero":false},"axis":{"title":"10⁻¹⁶ erg/s cm⁻² Å⁻¹","values":[5,10,15,20,25],"grid":true}}}},
 {"data":{"name":"m2"},"transform":[{"filter":"datum.p==0||datum.p==3"}],"mark":{"type":"line","strokeWidth":1.2,"clip":true,"interpolate":"monotone"},"encoding":{"x":{"field":"x","type":"quantitative"},"y":{"field":"y","type":"quantitative"},
  "color":{"field":"k","type":"nominal","scale":{"domain":["b","r","u"],"range":["#000000","#ff0000","#0000ff"]},"legend":{"title":"vₑₓₚ [km s⁻¹]","orient":"none","legendX":6.3,"legendY":21.5,"symbolType":"M4,0H12","symbolSize":25,"symbolOffset":0.2,"labelExpr":"datum.value=='b'?'13':datum.value=='r'?'0':'26'"}},
  "strokeDash":{"field":"k","type":"nominal","scale":{"domain":["b","r","u"],"range":[[1,0],[3,2],[3,2]]},"legend":{"title":"vₑₓₚ [km s⁻¹]","orient":"none","legendX":6.3,"legendY":21.5,"symbolType":"M4,0H12","symbolSize":25,"symbolOffset":0.2,"labelExpr":"datum.value=='b'?'13':datum.value=='r'?'0':'26'"}}}},
 {"data":{"values":[{"t":"Raman He II 6545"}]},"mark":{"type":"text","font":"Liberation Sans","fontWeight":"bold","fontSize":7,"align":"left","baseline":"middle"},"encoding":{"text":{"field":"t"},"x":{"datum":6532.8},"y":{"datum":24.8}}}
 ]},
 {"data":{"values":[{"v":0}]},"mark":{"type":"rule","color":"#000000","strokeDash":[2,1.5],"strokeWidth":1},"encoding":{"x":{"field":"v","type":"quantitative","scale":{"domain":[-607,845],"nice":false,"zero":false},"axis":{"orient":"top","title":"ΔV [km s⁻¹]","values":[-400,-200,0,200,400,600,800],"grid":false}}}}
],"resolve":{"scale":{"x":"independent"}}},

{"width":168,"height":121,"layer":[{"layer":[
 {"data":{"name":"o2"},"mark":{"type":"line","color":"#bdbdbd","strokeWidth":0.8,"clip":true},"encoding":{"x":{"field":"x","type":"quantitative","scale":{"domain":[6531.6,6561.6],"nice":false,"zero":false},"axis":{"title":"Wavelength [Å]","values":[6535,6540,6545,6550,6555,6560],"format":"d","grid":true}},"y":{"field":"y","type":"quantitative","scale":{"domain":[2.1,26.8],"nice":false,"zero":false},"axis":{"title":"10⁻¹⁶ erg/s cm⁻² Å⁻¹","values":[5,10,15,20,25],"grid":true}}}},
 {"data":{"name":"m2"},"transform":[{"filter":"datum.p==0||datum.p==4"}],"mark":{"type":"line","strokeWidth":1.2,"clip":true,"interpolate":"monotone"},"encoding":{"x":{"field":"x","type":"quantitative"},"y":{"field":"y","type":"quantitative"},
  "color":{"field":"k","type":"nominal","scale":{"domain":["b","r","u"],"range":["#000000","#ff0000","#0000ff"]},"legend":{"title":"vᵣₐₙ [km s⁻¹]","orient":"none","legendX":10,"legendY":21.5,"symbolType":"M4,0H12","symbolSize":25,"symbolOffset":-3.5,"labelExpr":"datum.value=='b'?'10':datum.value=='r'?'0':'20'"}},
  "strokeDash":{"field":"k","type":"nominal","scale":{"domain":["b","r","u"],"range":[[1,0],[3,2],[3,2]]},"legend":{"title":"vᵣₐₙ [km s⁻¹]","orient":"none","legendX":10,"legendY":21.5,"symbolType":"M4,0H12","symbolSize":25,"symbolOffset":-3.5,"labelExpr":"datum.value=='b'?'10':datum.value=='r'?'0':'20'"}}}},
 {"data":{"values":[{"t":"Raman He II 6545"}]},"mark":{"type":"text","font":"Liberation Sans","fontWeight":"bold","fontSize":7,"align":"left","baseline":"middle"},"encoding":{"text":{"field":"t"},"x":{"datum":6532.9},"y":{"datum":24.8}}}
 ]},
 {"data":{"values":[{"v":0}]},"mark":{"type":"rule","color":"#000000","strokeDash":[2,1.5],"strokeWidth":1},"encoding":{"x":{"field":"v","type":"quantitative","scale":{"domain":[-607,845],"nice":false,"zero":false},"axis":{"orient":"top","title":"ΔV [km s⁻¹]","values":[-400,-200,0,200,400,600,800],"grid":false}}}}
],"resolve":{"scale":{"x":"independent"}}}
],
"config": {
 "font": "Liberation Serif",
 "view": {"stroke": "#000000", "strokeWidth": 1},
 "axis": {"labelFont": "Liberation Serif", "labelFontSize": 7, "labelColor": "#000000", "titleFont": "Liberation Serif", "titleFontSize": 7.5, "titleFontWeight": "normal", "titleColor": "#000000", "domain": false, "tickColor": "#000000", "tickSize": -3, "tickWidth": 0.8, "labelPadding": 5, "titlePadding": 2, "labelFlush": false, "labelOverlap": false, "gridColor": "#cfcfcf", "gridDash": [2, 2], "gridWidth": 0.6},
 "legend": {"symbolStrokeWidth": 1.3, "labelOffset": -7, "rowPadding": 0.3, "titlePadding": 3, "labelFont": "Liberation Serif", "labelFontSize": 7, "labelColor": "#000000", "titleFont": "Liberation Serif", "titleFontSize": 7.5, "titleFontWeight": "normal", "titleColor": "#000000", "padding": 0, "labelLimit": 0}
}
}
